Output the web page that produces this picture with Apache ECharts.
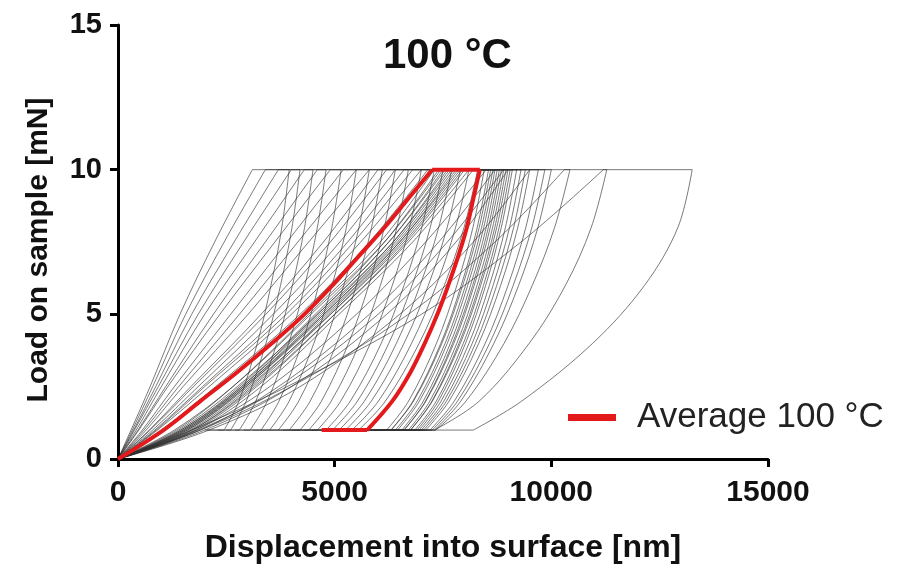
<!DOCTYPE html>
<html>
<head>
<meta charset="utf-8">
<script src="https://cdn.jsdelivr.net/npm/echarts@6/dist/echarts.min.js"></script>
<style>
html,body{margin:0;padding:0;background:#fff;}
#chart{width:902px;height:569px;}
</style>
</head>
<body>
<div id="chart"></div>
<script>
// ---- axis ticks ----
const xTicks = [0, 5000, 10000, 15000];
const yTicks = [0, 5, 10, 15];

// ---- shared load levels (mN) ----
const loadLevels = [0, 1, 2.5, 5, 7.5, 10];
const unloadLevels = [10, 8, 6, 4, 2, 1];
const holdLoad = 10;
const driftLoad = 1;

// ---- individual indentations (displacement in nm at each load level) ----
const grayLoadX = [
  [0, 300, 740, 1430, 2230, 3100],
  [0, 330, 800, 1560, 2450, 3400],
  [0, 360, 870, 1700, 2680, 3700],
  [0, 380, 930, 1850, 2900, 4000],
  [0, 420, 1000, 2000, 3150, 4300],
  [0, 460, 1100, 2200, 3400, 4600],
  [0, 480, 1150, 2350, 3620, 4900],
  [0, 560, 1300, 2600, 3900, 5200],
  [0, 600, 1400, 2800, 4150, 5500],
  [0, 650, 1500, 3000, 4400, 5800],
  [0, 720, 1680, 3300, 4740, 6000],
  [0, 740, 1740, 3410, 4900, 6200],
  [0, 800, 1850, 3580, 5120, 6400],
  [0, 850, 1950, 3760, 5300, 6600],
  [0, 880, 2000, 3880, 5440, 6800],
  [0, 910, 2100, 4000, 5600, 7000],
  [0, 1000, 2250, 4200, 5800, 7150],
  [0, 1350, 2650, 4400, 6050, 7300],
  [0, 1450, 2800, 4550, 6150, 7400],
  [0, 1300, 2650, 4450, 6150, 7450],
  [0, 1500, 2850, 4600, 6250, 7500],
  [0, 1400, 2750, 4600, 6250, 7550],
  [0, 1550, 2900, 4700, 6350, 7600],
  [0, 1450, 2850, 4650, 6350, 7650],
  [0, 1600, 2950, 4750, 6400, 7700],
  [0, 1500, 2900, 4750, 6450, 7750],
  [0, 1650, 3050, 4850, 6500, 7800],
  [0, 1550, 2950, 4800, 6500, 7850],
  [0, 1700, 3100, 4900, 6550, 7900],
  [0, 1600, 3000, 4900, 6600, 7950],
  [0, 1750, 3200, 5000, 6650, 8000],
  [0, 1700, 3150, 5000, 6700, 8100],
  [0, 1800, 3300, 5100, 6800, 8200],
  [0, 1800, 3500, 5500, 7100, 8500],
  [0, 1900, 3700, 5800, 7400, 8700],
  [0, 1850, 3800, 6000, 7600, 8900],
  [0, 2000, 4000, 6200, 7800, 9000],
  [0, 2100, 4200, 6500, 8200, 9500],
  [0, 1900, 4000, 6700, 8700, 10300],
  [0, 1700, 3900, 7000, 9300, 11200]
];
const grayUnloadX = [
  [3950, 3780, 3530, 3215, 2790, 2450],
  [4200, 4015, 3750, 3415, 2960, 2600],
  [4500, 4305, 4025, 3665, 3180, 2800],
  [4800, 4600, 4310, 3940, 3445, 3050],
  [5150, 4935, 4630, 4245, 3715, 3300],
  [5500, 5270, 4940, 4520, 3950, 3500],
  [5800, 5560, 5210, 4770, 4170, 3700],
  [6100, 5850, 5500, 5045, 4435, 3950],
  [6400, 6145, 5785, 5320, 4695, 4200],
  [6700, 6435, 6055, 5575, 4920, 4400],
  [7000, 6725, 6330, 5825, 5140, 4600],
  [7300, 7010, 6600, 6075, 5360, 4800],
  [7500, 7205, 6785, 6250, 5525, 4950],
  [7700, 7400, 6970, 6425, 5685, 5100],
  [7900, 7595, 7160, 6600, 5845, 5250],
  [8100, 7790, 7345, 6775, 6010, 5400],
  [8300, 7985, 7530, 6950, 6170, 5550],
  [8450, 8190, 7820, 7350, 6705, 6200],
  [8550, 8290, 7920, 7450, 6805, 6300],
  [8600, 8335, 7955, 7475, 6820, 6300],
  [8650, 8390, 8020, 7550, 6905, 6400],
  [8700, 8440, 8070, 7600, 6955, 6450],
  [8750, 8495, 8135, 7670, 7045, 6550],
  [8800, 8545, 8185, 7720, 7095, 6600],
  [8850, 8590, 8220, 7750, 7105, 6600],
  [8900, 8645, 8285, 7820, 7195, 6700],
  [8950, 8695, 8335, 7870, 7245, 6750],
  [9000, 8740, 8370, 7900, 7255, 6750],
  [9050, 8795, 8435, 7970, 7345, 6850],
  [9100, 8845, 8485, 8020, 7395, 6900],
  [9200, 8940, 8570, 8100, 7455, 6950],
  [9300, 9035, 8655, 8175, 7520, 7000],
  [9400, 9130, 8740, 8250, 7580, 7050],
  [9500, 9225, 8830, 8325, 7640, 7100],
  [9700, 9410, 9000, 8475, 7760, 7200],
  [9850, 9550, 9120, 8575, 7835, 7250],
  [10000, 9690, 9245, 8675, 7910, 7300],
  [10430, 10075, 9560, 8910, 8030, 7330],
  [11280, 10920, 10325, 9490, 8335, 7300],
  [13250, 12920, 12150, 10955, 9315, 8200]
];
const grayDriftEndX = [
  2000, 2050, 2300, 2500, 2700, 2900, 3100, 3300, 3500, 3700,
  3800, 4000, 3950, 4300, 4400, 4500, 4800,
  5300, 5500, 5200, 5600, 5400, 5700, 5500, 5800, 5900, 5700, 6000, 6100, 5900, 6200, 6300, 6400,
  6300, 6500, 6200, 6700, 6900, 6700, 7300
];

// ---- average curve ----
const avgName = 'Average 100 °C';
const avgLoadLevels = [0, 1, 2, 3, 4, 5, 6, 7, 8, 9, 10];
const avgLoadX = [0, 1050, 1900, 2750, 3550, 4300, 4950, 5550, 6150, 6700, 7250];
const avgUnloadLevels = [10, 9, 8, 7, 6, 5, 4, 3, 2, 1];
const avgUnloadX = [8350, 8200, 8050, 7850, 7620, 7370, 7080, 6750, 6330, 5750];
const avgDriftEndX = 4700;

const grayLine = { color: '#303030', width: 0.95, opacity: 0.68 };
const redLine = { color: '#e3191c', width: 4, opacity: 1 };

const series = [];
function addCurve(name, loadX, loadLv, unloadX, unloadLv, driftEnd, style, z) {
  const base = {
    type: 'line', showSymbol: false, symbol: 'none', silent: true, animation: false,
    lineStyle: style, itemStyle: { color: style.color }, color: style.color, z: z
  };
  if (name) base.name = name;
  series.push(Object.assign({}, base, { smooth: 0.35, data: loadLv.map((y, j) => [loadX[j], y]) }));
  series.push(Object.assign({}, base, { smooth: false, data: [[loadX[loadX.length - 1], holdLoad], [unloadX[0], holdLoad]] }));
  series.push(Object.assign({}, base, { smooth: 0.35, data: unloadLv.map((y, j) => [unloadX[j], y]) }));
  series.push(Object.assign({}, base, { smooth: false, data: [[unloadX[unloadX.length - 1], driftLoad], [driftEnd, driftLoad]] }));
}
for (let i = 0; i < grayLoadX.length; i++) {
  addCurve(null, grayLoadX[i], loadLevels, grayUnloadX[i], unloadLevels, grayDriftEndX[i], grayLine, 2);
}
addCurve(avgName, avgLoadX, avgLoadLevels, avgUnloadX, avgUnloadLevels, avgDriftEndX, redLine, 5);

const font = 'Liberation Sans, Arial, Helvetica, sans-serif';
const chart = echarts.init(document.getElementById('chart'), null, { renderer: 'canvas' });
chart.setOption({
  animation: false,
  backgroundColor: '#ffffff',
  title: {
    text: '100 °C',
    left: 378, top: 30,
    textStyle: { fontFamily: font, fontSize: 42, fontWeight: 'bold', color: '#111' }
  },
  legend: {
    data: [{ name: avgName, icon: 'rect', itemStyle: { color: '#e3191c' } }],
    left: 563, top: 395,
    itemWidth: 48, itemHeight: 7,
    textStyle: { fontFamily: font, fontSize: 35, color: '#222', padding: [0, 0, 0, 16] },
    selectedMode: false
  },
  grid: { left: 118, right: 134, top: 25, bottom: 109, containLabel: false },
  xAxis: {
    type: 'value', min: xTicks[0], max: xTicks[xTicks.length - 1], interval: xTicks[1] - xTicks[0],
    name: 'Displacement into surface [nm]', nameLocation: 'middle', nameGap: 73,
    nameTextStyle: { fontFamily: font, fontSize: 32, fontWeight: 'bold', color: '#111' },
    axisLine: { lineStyle: { color: '#000', width: 3 } },
    axisTick: { length: 8, lineStyle: { color: '#000', width: 3 } },
    axisLabel: { fontFamily: font, fontSize: 30, fontWeight: 'bold', color: '#111', margin: 19,
      formatter: v => String(v) },
    splitLine: { show: false }
  },
  yAxis: {
    type: 'value', min: yTicks[0], max: yTicks[yTicks.length - 1], interval: yTicks[1] - yTicks[0],
    name: 'Load on sample [mN]', nameLocation: 'middle', nameGap: 64,
    nameTextStyle: { fontFamily: font, fontSize: 30, fontWeight: 'bold', color: '#111', padding: [0, 16, 0, 0] },
    axisLine: { lineStyle: { color: '#000', width: 3 } },
    axisTick: { length: 8, lineStyle: { color: '#000', width: 3 } },
    axisLabel: { fontFamily: font, fontSize: 29, fontWeight: 'bold', color: '#111', margin: 16,
      formatter: v => String(v) },
    splitLine: { show: false }
  },
  series: series
});
</script>
</body>
</html>
